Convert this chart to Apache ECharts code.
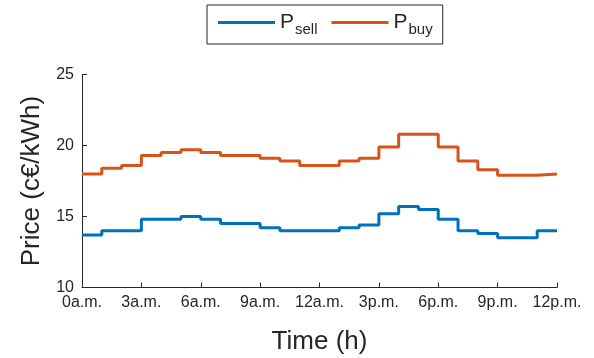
<!DOCTYPE html>
<html>
<head>
<meta charset="utf-8">
<script src="https://cdn.jsdelivr.net/npm/echarts@6/dist/echarts.min.js"></script>
<style>html,body{margin:0;padding:0;background:#fff;}#c{width:594px;height:358px;}</style>
</head>
<body>
<div id="c"></div>
<script>
// hours (start of each hourly step)
var hours = [0,1,2,3,4,5,6,7,8,9,10,11,12,13,14,15,16,17,18,19,20,21,22,23];
// selling price (c€/kWh)
var pSell = [13.7,14.0,14.0,14.8,14.8,15.0,14.8,14.5,14.5,14.2,14.0,14.0,14.0,14.2,14.4,15.2,15.7,15.5,14.8,14.0,13.8,13.5,13.5,14.0];
// buying price (c€/kWh)
var pBuy = [18.0,18.4,18.6,19.3,19.5,19.7,19.5,19.3,19.3,19.1,18.9,18.6,18.6,18.9,19.1,19.9,20.8,20.8,19.9,18.9,18.3,17.9,17.9,18.0];
// x tick labels (every 3 h)
var xTickLabels = ['0a.m.','3a.m.','6a.m.','9a.m.','12a.m.','3p.m.','6p.m.','9p.m.','12p.m.'];
var yTicks = [10,15,20,25];

function stairs(vals){
  var d = hours.map(function(h,i){return [h, vals[i]];});
  d.push([hours[hours.length-1]+1, vals[vals.length-1]]);
  return d;
}

var axisCol = '#262626';
var font = 'Liberation Sans, Arial, Helvetica, sans-serif';
var chart = echarts.init(document.getElementById('c'), null, {renderer:'canvas'});
chart.setOption({
  animation:false,
  backgroundColor:'#fff',
  grid:{left:82, right:37, top:74.5, bottom:70.5, outerBoundsMode:'none', containLabel:false},
  legend:{
    top:5, left:207,
    itemGap:14, itemWidth:57, itemHeight:3,
    borderColor:axisCol, borderWidth:1, borderRadius:0,
    padding:[7,10,7,11],
    icon:'rect',
    formatter:function(n){ return n==='Psell' ? '{a|P}{b|sell}' : '{a|P}{b|buy}'; },
    textStyle:{
      fontFamily:font, color:axisCol,
      rich:{
        a:{fontSize:21, fontFamily:font, color:axisCol},
        b:{fontSize:15, fontFamily:font, color:axisCol, padding:[14,0,0,1]}
      }
    }
  },
  xAxis:{
    type:'value', min:0, max:24, interval:3,
    name:'Time (h)', nameLocation:'middle', nameGap:41,
    nameTextStyle:{fontSize:26, fontFamily:font, color:axisCol},
    axisLine:{show:true, lineStyle:{color:axisCol, width:1}},
    axisTick:{show:true, inside:true, length:5, lineStyle:{color:axisCol}},
    axisLabel:{fontSize:16, fontFamily:font, color:axisCol, margin:7,
      formatter:function(v){ return xTickLabels[Math.round(v/3)]; }},
    splitLine:{show:false}
  },
  yAxis:{
    type:'value', min:yTicks[0], max:yTicks[yTicks.length-1], interval:5,
    name:'Price (c€/kWh)', nameLocation:'middle', nameGap:36,
    nameTextStyle:{fontSize:26, fontFamily:font, color:axisCol},
    axisLine:{show:true, lineStyle:{color:axisCol, width:1}},
    axisTick:{show:true, inside:true, length:5, lineStyle:{color:axisCol}},
    axisLabel:{fontSize:16, fontFamily:font, color:axisCol, margin:8},
    splitLine:{show:false}
  },
  series:[
    {name:'Psell', type:'line', step:'end', data:stairs(pSell), showSymbol:false, symbol:'none',
      lineStyle:{color:'#0072BD', width:3}, itemStyle:{color:'#0072BD'}},
    {name:'Pbuy', type:'line', step:'end', data:stairs(pBuy), showSymbol:false, symbol:'none',
      lineStyle:{color:'#D95319', width:3}, itemStyle:{color:'#D95319'}}
  ]
});
</script>
</body>
</html>
